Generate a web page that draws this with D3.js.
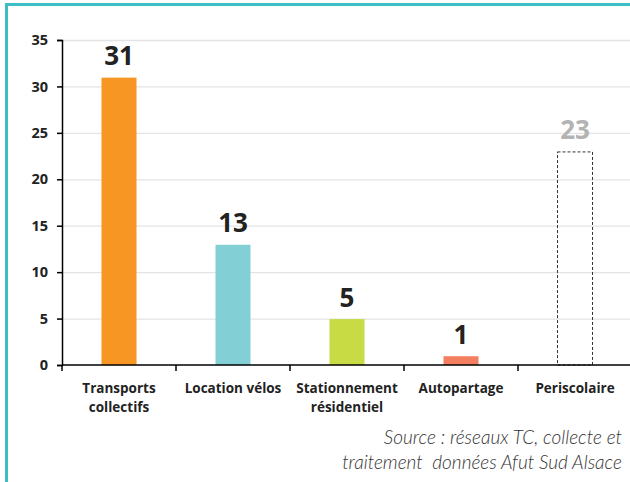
<!DOCTYPE html>
<html>
<head>
<meta charset="utf-8">
<script src="https://cdn.jsdelivr.net/npm/d3@7"></script>
<style>
  body { margin: 0; background: #fff; }
  svg { display: block; }
</style>
</head>
<body>
<div id="chart"></div>
<script>
const categories = [["Transports", "collectifs"], ["Location vélos"], ["Stationnement", "résidentiel"], ["Autopartage"], ["Periscolaire"]];
const values = [31, 13, 5, 1, 23];
const barColors = ["#f79622", "#82d0d5", "#c8db45", "#f47f60", "none"];
const yTicks = [0, 5, 10, 15, 20, 25, 30, 35];
const sourceLines = ["Source : réseaux TC, collecte et", "traitement  données Afut Sud Alsace"];

const W = 630, H = 482;
const margin = {top: 40, right: 0, bottom: 117, left: 62};
const width = W - margin.left - margin.right;
const height = H - margin.top - margin.bottom;

const svg = d3.select("#chart").append("svg")
  .attr("width", W).attr("height", H);

// frame
svg.append("line").attr("x1", 6.5).attr("x2", W).attr("y1", 4.5).attr("y2", 4.5)
  .attr("stroke", "#3cbfc4").attr("stroke-width", 3);
svg.append("line").attr("x1", 6.5).attr("x2", 6.5).attr("y1", 3).attr("y2", H)
  .attr("stroke", "#3cbfc4").attr("stroke-width", 3);

const g = svg.append("g").attr("transform", "translate(" + margin.left + "," + margin.top + ")");

var x = d3.scaleBand().domain(d3.range(categories.length)).range([0, 570]).paddingInner(0).paddingOuter(0);
var y = d3.scaleLinear().domain([0, 35]).range([height, 0]);

// gridlines
g.selectAll(".grid").data(yTicks.filter(d => d > 0)).enter()
  .append("line")
  .attr("x1", 0).attr("x2", width)
  .attr("y1", d => y(d) + 0.5).attr("y2", d => y(d) + 0.5)
  .attr("stroke", "#e4e4e4").attr("stroke-width", 1.3);

// bars
const bw = 36;
g.selectAll(".bar").data(values).enter()
  .append("rect")
  .attr("x", (d, i) => x(i) + x.bandwidth() / 2 - bw / 2 + 0.5)
  .attr("y", d => y(d) + 0.5)
  .attr("width", bw - 1)
  .attr("height", d => height - y(d) - 0.5)
  .attr("fill", (d, i) => barColors[i])
  .attr("stroke", (d, i) => barColors[i] === "none" ? "#333" : "none")
  .attr("stroke-dasharray", "3,2");

// value labels
g.selectAll(".val").data(values).enter()
  .append("text")
  .attr("x", (d, i) => x(i) + x.bandwidth() / 2)
  .attr("y", d => y(d) - 12)
  .attr("text-anchor", "middle")
  .style("font-family", "'Open Sans', sans-serif")
  .style("font-weight", "bold")
  .style("font-size", "26px")
  .attr("fill", (d, i) => barColors[i] === "none" ? "#b3b3b3" : "#222")
  .text(d => d);

// y axis
const yAxis = g.append("g")
  .call(d3.axisLeft(y).tickValues(yTicks).tickSize(5).tickPadding(9));
yAxis.select(".domain").attr("stroke", "#000").attr("stroke-width", 1.5);
yAxis.selectAll(".tick line").attr("stroke", "#000").attr("stroke-width", 1.5);
yAxis.selectAll("text")
  .style("font-family", "'Open Sans', sans-serif")
  .style("font-weight", "bold")
  .style("font-size", "14.5px")
  .attr("fill", "#222");

// x axis
g.append("line").attr("x1", 0).attr("x2", width).attr("y1", height).attr("y2", height)
  .attr("stroke", "#000").attr("stroke-width", 1.5);
g.selectAll(".xtick").data(d3.range(categories.length + 1)).enter()
  .append("line")
  .attr("x1", d => d * x.bandwidth()).attr("x2", d => d * x.bandwidth())
  .attr("y1", height).attr("y2", height + 6)
  .attr("stroke", "#000").attr("stroke-width", 1.5);

const xl = g.selectAll(".xl").data(categories).enter()
  .append("text")
  .attr("text-anchor", "middle")
  .attr("transform", (d, i) => "translate(" + (x(i) + x.bandwidth() / 2) + "," + (height + 28) + ")")
  .style("font-family", "'Open Sans', sans-serif")
  .style("font-weight", "bold")
  .style("font-size", "13.5px")
  .attr("fill", "#222");
xl.selectAll("tspan").data(d => d).enter()
  .append("tspan")
  .attr("x", 0)
  .attr("dy", (d, i) => i === 0 ? 0 : 19)
  .text(d => d);

// source
svg.selectAll(".src").data(sourceLines).enter()
  .append("text")
  .attr("x", 622)
  .attr("y", (d, i) => 444 + i * 25)
  .attr("text-anchor", "end")
  .style("font-family", "Lato, sans-serif")
  .style("font-style", "italic")
  .style("font-weight", 300)
  .style("font-size", "19px")
  .attr("fill", "#333")
  .style("white-space", "pre")
  .text(d => d);
</script>
</body>
</html>
